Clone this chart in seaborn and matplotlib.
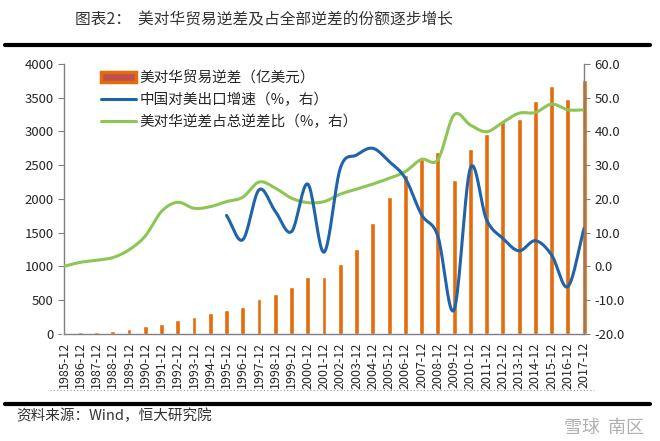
import numpy as np
import pandas as pd
import matplotlib
matplotlib.use("Agg")
import matplotlib.pyplot as plt
import seaborn as sns
from matplotlib.lines import Line2D
from matplotlib.patches import Patch

years = list(range(1985, 2018))
labels = [f"{y}-12" for y in years]

# 美对华贸易逆差（亿美元）
deficit = [6, 20, 32, 42, 75, 120, 140, 205, 250, 305, 355, 405, 510, 590, 700,
           845, 840, 1035, 1250, 1640, 2030, 2350, 2595, 2695, 2280, 2740, 2955,
           3160, 3185, 3445, 3675, 3480, 3760]

# 美对华逆差占总逆差比（%）
share = [0.0, 1.2, 1.8, 2.6, 4.9, 9.0, 16.3, 19.0, 17.2, 17.7, 19.2, 20.5, 25.0,
         23.2, 20.2, 18.9, 19.2, 21.4, 22.9, 24.4, 26.1, 28.1, 31.7, 31.6, 44.9,
         41.9, 39.9, 42.7, 45.4, 45.6, 48.1, 46.4, 46.4]

# 中国对美出口增速（%），1995 起
export_years = list(range(1995, 2018))
export_growth = [15.1, 7.9, 22.7, 16.3, 10.3, 24.4, 4.2, 29.1, 33.0, 35.0, 31.1,
                 26.1, 15.3, 9.0, -12.9, 29.1, 13.8, 8.3, 4.6, 7.6, 3.4, -6.0, 11.3]


def smooth(xs, ys, n=20):
    # Catmull-Rom curve, like Excel's smoothed line
    x = np.asarray(xs, float)
    y = np.asarray(ys, float)
    px = np.concatenate([[2 * x[0] - x[1]], x, [2 * x[-1] - x[-2]]])
    py = np.concatenate([[2 * y[0] - y[1]], y, [2 * y[-1] - y[-2]]])
    ox, oy = [], []
    t = np.linspace(0, 1, n, endpoint=False)
    for i in range(1, len(px) - 2):
        for p, out in ((px, ox), (py, oy)):
            p0, p1, p2, p3 = p[i - 1], p[i], p[i + 1], p[i + 2]
            out.extend(0.5 * (2 * p1 + (-p0 + p2) * t
                              + (2 * p0 - 5 * p1 + 4 * p2 - p3) * t ** 2
                              + (-p0 + 3 * p1 - 3 * p2 + p3) * t ** 3))
    ox.append(x[-1])
    oy.append(y[-1])
    return np.array(ox), np.array(oy)


sns.set_style("white")
plt.rcParams['font.family'] = ['Noto Sans CJK SC', 'DejaVu Sans']

orange = "#E46C0A"
blue = "#1F64AA"
green = "#8DC653"
grey = "#808080"

fig = plt.figure(figsize=(6.6, 4.41), dpi=100)
ax = fig.add_axes([0.097, 0.243, 0.788, 0.612])

df = pd.DataFrame({"label": labels, "deficit": deficit})
sns.barplot(data=df, x="label", y="deficit", color=orange, width=0.3,
            saturation=1, ax=ax)
for p in ax.patches:
    p.set_clip_on(False)
ax.set_xlim(0, len(years) - 1)
ax.set_ylim(0, 4000)
ax.set_yticks(range(0, 4001, 500))
ax.set_xlabel("")
ax.set_ylabel("")
ax.tick_params(axis="x", rotation=90, labelsize=9, direction="out", length=4,
               color=grey, pad=2)
ax.tick_params(axis="y", labelsize=9.5, direction="out", length=4, color=grey)

ax2 = ax.twinx()
sx, sy = smooth(range(len(years)), share)
ax2.plot(sx, sy, color=green, lw=2.2)
ex = [years.index(y) for y in export_years]
bx, by = smooth(ex, export_growth)
ax2.plot(bx, by, color=blue, lw=2.2)
ax2.set_ylim(-20, 60)
ax2.set_yticks(range(-20, 61, 10))
ax2.set_yticklabels([f"{v:.1f}" for v in range(-20, 61, 10)])
ax2.tick_params(axis="y", labelsize=9.5, direction="out", length=4, color=grey)

for a in (ax, ax2):
    a.spines["top"].set_visible(False)
    for s in ("left", "right", "bottom"):
        a.spines[s].set_color(grey)
        a.spines[s].set_linewidth(1)
ax.spines["right"].set_visible(False)
ax2.spines["left"].set_visible(False)
ax2.spines["bottom"].set_visible(False)

handles = [Patch(facecolor="#C0504D", edgecolor=orange, linewidth=2.5),
           Line2D([], [], color=blue, lw=2.2),
           Line2D([], [], color=green, lw=2.2)]
names = ["美对华贸易逆差（亿美元）", "中国对美出口增速（%，右）", "美对华逆差占总逆差比（%，右）"]
ax2.legend(handles, names, loc="upper left", bbox_to_anchor=(0.055, 1.005),
           frameon=False, fontsize=10.5, handlelength=2.4, handletextpad=0.2,
           labelspacing=0.5, borderaxespad=0.2)

fig.text(0.113, 0.955, "图表2：  美对华贸易逆差及占全部逆差的份额逐步增长",
         fontsize=11.3, color="#333333", va="center")
fig.add_artist(Line2D([0.008, 0.985], [0.898, 0.898], color="black", lw=3))
fig.add_artist(Line2D([0.075, 0.9], [0.116, 0.116], color="#999999", lw=0.8,
                      ls=(0, (1, 2))))
fig.add_artist(Line2D([0.008, 0.985], [0.085, 0.085], color="black", lw=3))
fig.text(0.025, 0.058, "资料来源：Wind，恒大研究院", fontsize=10.5, style="italic",
         color="#333333", va="center")
fig.text(0.975, 0.03, "雪球  南区", fontsize=13, color="#B0B0B0", ha="right",
         va="center")

fig.savefig("out.png", dpi=100)
